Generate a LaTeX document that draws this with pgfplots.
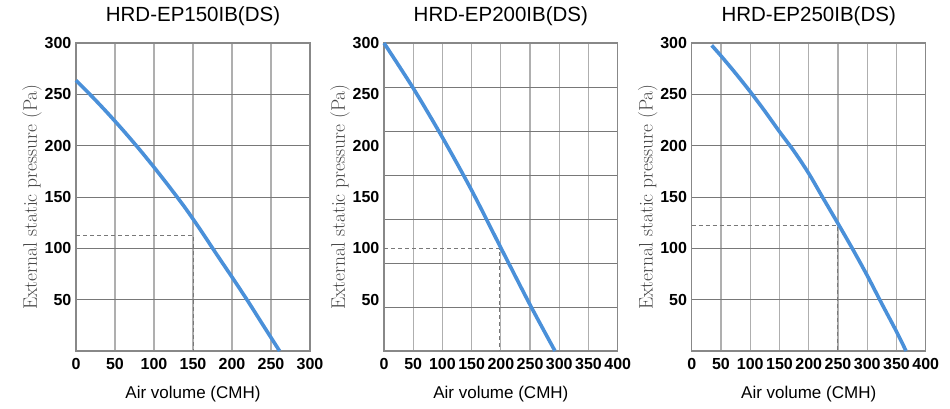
\documentclass[border=0pt]{standalone}
\usepackage{pgfplots}
\pgfplotsset{compat=1.18}
\usepackage{fontspec}
\setsansfont{Liberation Sans}
\definecolor{curveblue}{RGB}{74,144,217}
\definecolor{framegray}{RGB}{136,136,136}
\definecolor{vgrid}{RGB}{175,175,175}
\definecolor{hgrid}{RGB}{120,120,120}
\definecolor{dashgray}{RGB}{120,120,120}
\definecolor{ylabgray}{RGB}{70,70,70}
\pgfplotsset{
  fanstyle/.style={
    scale only axis,
    height=308pt,
    ymin=0, ymax=300,
    xmin=0,
    clip=false,
    axis line style={framegray, line width=1.4pt},
    major tick length=0pt,
    grid=major,
    major x grid style={vgrid, line width=1.2pt},
    major y grid style={hgrid, line width=0.9pt},
    /pgf/number format/assume math mode=true,
    tick label style={font=\sffamily\bfseries\fontsize{16}{16}\selectfont, text=black},
    yticklabel style={inner sep=0pt, anchor=east, xshift=-4.5pt},
    xticklabel style={inner sep=0pt, anchor=north, yshift=-7pt},
    title style={font=\sffamily\fontsize{20.5}{20.5}\selectfont, at={(axis description cs:0.5,1)}, anchor=base, yshift=15.7pt, inner sep=0pt},
    xlabel style={font=\sffamily\fontsize{17}{17}\selectfont, at={(axis description cs:0.5,-0.1558)}, anchor=base, inner sep=0pt},
    ylabel style={font=\rmfamily\fontsize{19.5}{19.5}\selectfont, text=ylabgray, at={(axis description cs:-0.188,0.5)}, rotate=0, anchor=center, inner sep=0pt},
    xlabel={Air volume (CMH)},
    ylabel={External static pressure (Pa)},
  },
  curve/.style={curveblue, line width=3.6pt, smooth, no markers},
  guide/.style={dashgray, line width=0.9pt, dash pattern=on 4pt off 3pt, no markers},
}
\begin{document}
\begin{tikzpicture}
\path[use as bounding box] (0pt,0pt) rectangle (950pt,408pt);

% Panel 1
\begin{axis}[fanstyle,
  at={(76pt,57pt)}, anchor=south west,
  width=234pt, xmax=300,
  xtick={0,50,100,150,200,250,300},
  ytick={50,100,150,200,250,300},
  title={HRD-EP150IB(DS)}]
\addplot[guide] coordinates {(0,112.7) (150,112.7) (150,0)};
\addplot[curve] coordinates {
(0,263.6) (20,248.3) (40,232.2) (60,215.3) (80,197.6) (100,179.0)
(120,159.6) (140,139.4) (160,117.5) (180,94.5) (200,72) (220,49)
(240,25) (261,0)};
\end{axis}

% Panel 2
\begin{axis}[fanstyle,
  at={(384pt,57pt)}, anchor=south west,
  width=233.7pt, xmax=400,
  xtick={0,50,100,150,200,250,300,350,400},
  ytick={42.857,85.714,128.571,171.429,214.286,257.143},
  yticklabels={},
  extra y ticks={50,100,150,200,250,300},
  extra y tick style={grid=none},
  title={HRD-EP200IB(DS)}]
\addplot[guide] coordinates {(0,99.5) (198,99.5) (198,0)};
\addplot[curve] coordinates {
(0,300) (50,256) (100,208) (150,156.5) (200,100.5) (250,45) (292.7,0)};
\end{axis}

% Panel 3
\begin{axis}[fanstyle,
  at={(691.7pt,57pt)}, anchor=south west,
  width=234pt, xmax=400,
  xtick={0,50,100,150,200,250,300,350,400},
  ytick={50,100,150,200,250,300},
  title={HRD-EP250IB(DS)}]
\addplot[guide] coordinates {(0,122.4) (249,122.4) (249,0)};
\addplot[curve] coordinates {
(34.2,297.7) (50,287.5) (75,270.5) (100,252.6) (125,233.6) (150,213.7)
(175,194.5) (200,173) (225,148.5) (250,124.2) (275,99.4) (300,73.5)
(325,46) (350,19) (366.4,0)};
\end{axis}
\end{tikzpicture}
\end{document}
